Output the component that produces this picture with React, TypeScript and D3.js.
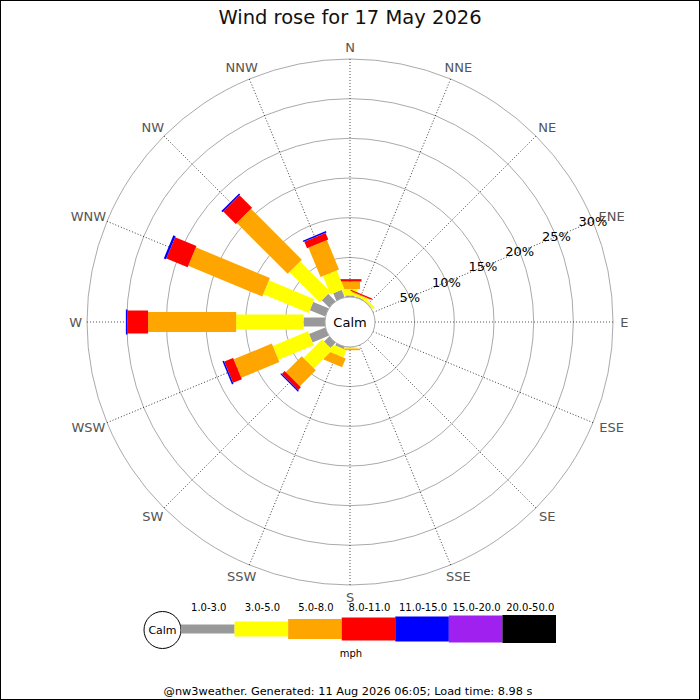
import { useEffect, useRef } from "react";
import * as d3 from "d3";

const directions = ["N", "NNE", "NE", "ENE", "E", "ESE", "SE", "SSE", "S", "SSW", "SW", "WSW", "W", "WNW", "NW", "NNW"];
const speedBands = ["1.0-3.0", "3.0-5.0", "5.0-8.0", "8.0-11.0", "11.0-15.0", "15.0-20.0", "20.0-50.0"];
const bandColors = ["#999999", "#ffff00", "#ffa500", "#ff0000", "#0000ff", "#a020f0", "#000000"];

// percent of time per direction, one array per speed band (N clockwise)
const band1to3 = [0.2, 0.1, 0.05, 0, 0, 0, 0, 0, 0.05, 0.3, 0.9, 2.2, 2.7, 2.1, 1.3, 1.0];
const band3to5 = [0.8, 0.3, 0.3, 0, 0, 0, 0, 0, 0.15, 1.0, 3.3, 4.8, 8.5, 6.2, 5.4, 2.5];
const band5to8 = [0.95, 0.1, 0, 0, 0, 0, 0, 0, 0.2, 1.2, 2.85, 5.2, 11.1, 10.1, 9.05, 4.0];
const band8to11 = [0.3, 0.15, 0, 0, 0, 0, 0, 0, 0, 0, 0.5, 1.2, 2.6, 2.9, 2.25, 0.9];
const band11to15 = [0, 0, 0, 0, 0, 0, 0, 0, 0, 0, 0.15, 0.2, 0.2, 0.3, 0.2, 0.2];
const band15to20 = [0, 0, 0, 0, 0, 0, 0, 0, 0, 0, 0, 0, 0, 0, 0, 0];
const band20to50 = [0, 0, 0, 0, 0, 0, 0, 0, 0, 0, 0, 0, 0, 0, 0, 0];

const ringTicks = [5, 10, 15, 20, 25, 30];

const title = "Wind rose for 17 May 2026";
const footer = "@nw3weather. Generated: 11 Aug 2026 06:05; Load time: 8.98 s";

const WindRose = () => {
	const svgRef = useRef<SVGSVGElement>(null);

	useEffect(() => {
		if (!svgRef.current) return;

		const width = 700;
		const height = 700;
		const cx = 350;
		const cy = 322;
		const calmR = 25;
		const font = "DejaVu Sans, Verdana, sans-serif";
		const barWidths = [9, 15, 20, 23, 25, 27, 28];

		const series = [band1to3, band3to5, band5to8, band8to11, band11to15, band15to20, band20to50];

		const svg = d3.select(svgRef.current).attr("width", width).attr("height", height);
		svg.selectAll("*").remove();

		svg.append("rect").attr("width", width).attr("height", height).attr("fill", "#fff");

		const r = d3.scaleLinear().domain([0, 30]).range([calmR, 263]);
		const angle = d3
			.scaleLinear()
			.domain([0, directions.length])
			.range([0, 360]);

		// Title
		svg
			.append("text")
			.attr("x", cx)
			.attr("y", 24)
			.attr("text-anchor", "middle")
			.style("font-family", font)
			.style("font-size", "19.5px")
			.attr("fill", "#111")
			.text(title);

		const g = svg.append("g").attr("transform", `translate(${cx},${cy})`);

		// Rings
		g.selectAll(".ring")
			.data(ringTicks)
			.join("circle")
			.attr("r", (d) => r(d))
			.attr("fill", "none")
			.attr("stroke", "#aaaaaa")
			.attr("stroke-width", 1);

		// Spokes
		g.selectAll(".spoke")
			.data(directions)
			.join("line")
			.attr("transform", (_, i) => `rotate(${angle(i)})`)
			.attr("x1", 0)
			.attr("y1", -calmR)
			.attr("x2", 0)
			.attr("y2", -r(30))
			.attr("stroke", "#222")
			.attr("stroke-width", 0.8)
			.attr("stroke-dasharray", "1,2");

		// Direction labels
		directions.forEach((d, i) => {
			const a = (angle(i) * Math.PI) / 180;
			const w = d.length * 8.8;
			const R = 270;
			const x = R * Math.sin(a) + (w / 2) * Math.sin(a);
			const y = -R * Math.cos(a) - 5 * Math.cos(a);
			g.append("text")
				.attr("x", x)
				.attr("y", y)
				.attr("text-anchor", "middle")
				.attr("dominant-baseline", "central")
				.style("font-family", font)
				.style("font-size", "13px")
				.attr("fill", "#555")
				.text(d);
		});

		// Bars, stacked outward from calm circle
		directions.forEach((_, i) => {
			const bar = g.append("g").attr("transform", `rotate(${angle(i)})`);
			let cum = 0;
			series.forEach((s, b) => {
				const v = s[i];
				if (v <= 0) return;
				const r0 = r(cum);
				const r1 = r(cum + v);
				cum += v;
				bar
					.append("rect")
					.attr("x", -barWidths[b] / 2)
					.attr("y", -r1)
					.attr("width", barWidths[b])
					.attr("height", r1 - r0)
					.attr("fill", bandColors[b]);
			});
		});

		// Calm circle
		g.append("circle")
			.attr("r", calmR)
			.attr("fill", "#fff")
			.attr("stroke", "#aaaaaa")
			.attr("stroke-width", 1);
		g.append("text")
			.attr("text-anchor", "middle")
			.attr("dominant-baseline", "central")
			.style("font-family", font)
			.style("font-size", "13px")
			.attr("fill", "#000")
			.text("Calm");

		// Percentage labels along ENE spoke
		const eneA = (angle(3) * Math.PI) / 180;
		g.selectAll(".pct")
			.data(ringTicks)
			.join("text")
			.attr("x", (d) => r(d) * Math.sin(eneA))
			.attr("y", (d) => -r(d) * Math.cos(eneA))
			.attr("text-anchor", "middle")
			.attr("dominant-baseline", "central")
			.style("font-family", font)
			.style("font-size", "13px")
			.attr("fill", "#000")
			.text((d) => `${d}%`);

		// Legend
		const legendY = 629;
		const lx = d3.scaleBand().domain(speedBands).range([181, 556]);

		svg
			.append("circle")
			.attr("cx", 162.5)
			.attr("cy", 630)
			.attr("r", 18.5)
			.attr("fill", "#fff")
			.attr("stroke", "#000")
			.attr("stroke-width", 1);
		svg
			.append("text")
			.attr("x", 162.5)
			.attr("y", 630)
			.attr("text-anchor", "middle")
			.attr("dominant-baseline", "central")
			.style("font-family", font)
			.style("font-size", "11px")
			.attr("fill", "#000")
			.text("Calm");

		const legend = svg.append("g");
		legend
			.selectAll("rect")
			.data(speedBands)
			.join("rect")
			.attr("x", (d) => lx(d)!)
			.attr("y", (_, i) => legendY - barWidths[i] / 2)
			.attr("width", lx.bandwidth())
			.attr("height", (_, i) => barWidths[i])
			.attr("fill", (_, i) => bandColors[i]);
		legend
			.selectAll("text")
			.data(speedBands)
			.join("text")
			.attr("x", (d) => lx(d)! + lx.bandwidth() / 2 + 1)
			.attr("y", 611)
			.attr("text-anchor", "middle")
			.style("font-family", font)
			.style("font-size", "10px")
			.attr("fill", "#000")
			.text((d) => d);

		svg
			.append("text")
			.attr("x", 351)
			.attr("y", 657)
			.attr("text-anchor", "middle")
			.style("font-family", font)
			.style("font-size", "10px")
			.attr("fill", "#000")
			.text("mph");

		// Footer
		svg
			.append("text")
			.attr("x", 348)
			.attr("y", 695)
			.attr("text-anchor", "middle")
			.style("font-family", font)
			.style("font-size", "11.3px")
			.attr("fill", "#000")
			.text(footer);

		// Border
		svg
			.append("rect")
			.attr("x", 0.5)
			.attr("y", 0.5)
			.attr("width", width - 1)
			.attr("height", height - 1)
			.attr("fill", "none")
			.attr("stroke", "#000");
	}, []);

	return <svg ref={svgRef} style={{ position: "absolute", left: 0, top: 0, display: "block" }} />;
};

export default function App() {
	return <WindRose />;
}
